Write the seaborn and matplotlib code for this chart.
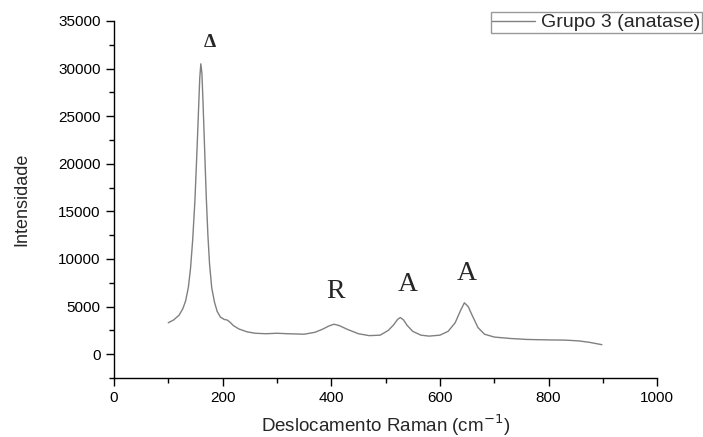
import matplotlib
matplotlib.use("Agg")
import matplotlib.pyplot as plt
import seaborn as sns
import pandas as pd
from matplotlib.ticker import MultipleLocator

shift = [100, 110, 120, 127, 132, 137, 141, 145, 149, 153, 156, 158, 160, 162, 164, 167, 170,
         173, 176, 180, 185, 190, 196, 203, 208, 213, 220, 230, 245, 260, 280, 300, 320, 350,
         370, 385, 395, 405, 415, 430, 450, 470, 490, 505, 515, 522, 527, 533, 540, 550, 565,
         580, 600, 615, 628, 638, 645, 652, 660, 670, 682, 700, 730, 760, 800, 830, 855, 875, 898]
intens = [3300, 3600, 4100, 4800, 5600, 7000, 9000, 12000, 16000, 21500, 26000, 29000, 30500,
          29500, 26500, 21500, 16500, 12500, 9500, 7000, 5500, 4500, 3900, 3650, 3600, 3400,
          3000, 2650, 2350, 2200, 2150, 2200, 2150, 2100, 2300, 2650, 2950, 3150, 3000, 2600,
          2150, 1950, 2000, 2500, 3100, 3650, 3850, 3600, 3000, 2400, 2000, 1900, 2000, 2400,
          3300, 4600, 5400, 5000, 4000, 2800, 2100, 1800, 1650, 1550, 1500, 1480, 1400, 1250, 1000]

labels_txt = ["Δ", "R", "A", "A"]
labels_x = [177, 407, 540, 650]
labels_y = [32700, 6600, 7350, 8500]

df = pd.DataFrame({"x": shift, "y": intens})

sns.set_theme(style="ticks")
plt.rcParams["font.family"] = ["Liberation Sans", "DejaVu Sans"]

fig = plt.figure(figsize=(7.03, 4.37), dpi=100)
ax = fig.add_axes([0.162, 0.135, 0.773, 0.817])
sns.lineplot(data=df, x="x", y="y", ax=ax, color="#808080", linewidth=1.0,
             label="Grupo 3 (anatase)")

ax.set_xlim(0, 1000)
ax.set_ylim(-2500, 35000)
ax.xaxis.set_major_locator(MultipleLocator(200))
ax.xaxis.set_minor_locator(MultipleLocator(100))
ax.yaxis.set_major_locator(MultipleLocator(5000))
ax.yaxis.set_minor_locator(MultipleLocator(2500))
ax.tick_params(which="major", direction="out", length=6, width=1, labelsize=11, colors="black")
ax.tick_params(which="minor", direction="out", length=3.5, width=1, colors="black")
sns.despine(ax=ax)
for s in ["left", "bottom"]:
    ax.spines[s].set_color("black")
    ax.spines[s].set_linewidth(1)

ax.set_xlabel("Deslocamento Raman (cm$^{-1}$)", fontsize=13.5, labelpad=5)
ax.set_ylabel("Intensidade", fontsize=13, labelpad=20)

for t, xx, yy in zip(labels_txt, labels_x, labels_y):
    if t == "Δ":
        ax.text(xx, yy, t, fontsize=14, fontweight="bold", family="Liberation Serif",
                ha="center", va="center")
    else:
        ax.text(xx, yy, t, fontsize=20, family="Liberation Serif", ha="center", va="center")

leg = ax.legend(loc="upper right", bbox_to_anchor=(0.998, 0.972), bbox_transform=fig.transFigure,
                fontsize=14, frameon=True, fancybox=False, handlelength=2.2,
                borderpad=0.08, handletextpad=0.3, borderaxespad=0)
leg.get_frame().set_edgecolor("#808080")
leg.get_frame().set_linewidth(1)

fig.savefig("out.png", dpi=100)
